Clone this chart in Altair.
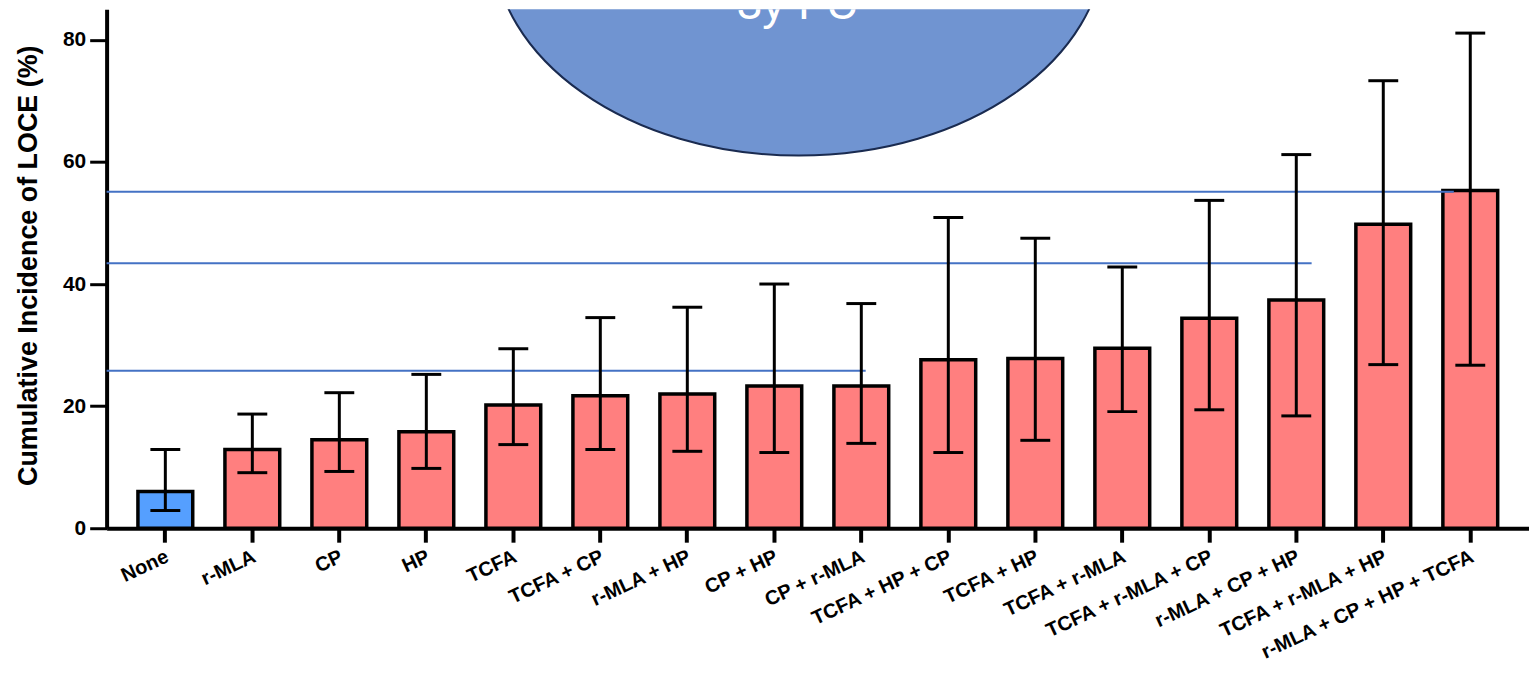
import altair as alt
import pandas as pd

# ---------------- data ----------------
categories = [
    "None", "r-MLA", "CP", "HP", "TCFA", "TCFA + CP", "r-MLA + HP", "CP + HP",
    "CP + r-MLA", "TCFA + HP + CP", "TCFA + HP", "TCFA + r-MLA",
    "TCFA + r-MLA + CP", "r-MLA + CP + HP", "TCFA + r-MLA + HP",
    "r-MLA + CP + HP + TCFA",
]
values = [6.0, 12.9, 14.5, 15.8, 20.2, 21.7, 22.0, 23.3, 23.3, 27.6, 27.8, 29.5,
          34.4, 37.4, 49.8, 55.3]
ci_low = [2.9, 9.1, 9.3, 9.8, 13.7, 12.9, 12.6, 12.4, 13.9, 12.4, 14.4, 19.1,
          19.4, 18.4, 26.8, 26.7]
ci_high = [12.9, 18.7, 22.2, 25.2, 29.4, 34.5, 36.2, 40.0, 36.8, 50.9, 47.5, 42.8,
           53.7, 61.2, 73.3, 81.1]
groups = ["reference"] + ["risk"] * 15

ref_line_values = [25.8, 43.4, 55.1]
ref_line_end_cat = ["CP + r-MLA", "r-MLA + CP + HP", "r-MLA + CP + HP + TCFA"]
ref_line_end_frac = [0.58, 0.78, 0.2]

bubble_text = ["3y FU"]

df = pd.DataFrame({
    "category": categories,
    "value": values,
    "lo": ci_low,
    "hi": ci_high,
    "group": groups,
})

FONT = "Liberation Sans"

x_scale = alt.Scale(domain=categories, paddingInner=0.37, paddingOuter=0.36)
y_scale = alt.Scale(domain=[0, 85], nice=False, zero=True)

x_axis = alt.Axis(
    title=None, labelAngle=335, labelAlign="right", labelBaseline="top",
    labelFontSize=20, labelFontWeight="bold", labelFont=FONT, labelColor="black",
    labelPadding=4, labelOffset=-2, labelLimit=0, labelOverlap=False,
    tickSize=14, tickWidth=4, tickColor="black",
    domainWidth=4, domainColor="black",
)
y_axis = alt.Axis(
    values=[0, 20, 40, 60, 80], grid=False,
    title="Cumulative Incidence of LOCE (%)", titleFont=FONT, titleFontSize=27,
    titleFontWeight="bold", titleColor="black", titleAngle=270,
    titleAlign="center", titleBaseline="middle", titleX=-78, titleY=257,
    labelFontSize=21, labelFontWeight="bold", labelFont=FONT, labelColor="black",
    labelPadding=4, tickSize=17, tickWidth=3, tickColor="black",
    domainWidth=4, domainColor="black",
)

x_enc = alt.X("category:N", sort=categories, scale=x_scale, axis=x_axis)

bars = alt.Chart(df).mark_bar(stroke="black", strokeWidth=3.5).encode(
    x=x_enc,
    y=alt.Y("value:Q", scale=y_scale, axis=y_axis),
    color=alt.Color("group:N",
                    scale=alt.Scale(domain=["reference", "risk"],
                                    range=["#559FFF", "#FF7F7F"]),
                    legend=None),
)

err_rule = alt.Chart(df).mark_rule(color="black", strokeWidth=3).encode(
    x=alt.X("category:N", sort=categories, scale=x_scale),
    y=alt.Y("lo:Q", scale=y_scale),
    y2="hi:Q",
)
cap_hi = alt.Chart(df).mark_tick(color="black", size=30, thickness=3, opacity=1).encode(
    x=alt.X("category:N", sort=categories, scale=x_scale),
    y=alt.Y("hi:Q", scale=y_scale),
)
cap_lo = alt.Chart(df).mark_tick(color="black", size=30, thickness=3, opacity=1).encode(
    x=alt.X("category:N", sort=categories, scale=x_scale),
    y=alt.Y("lo:Q", scale=y_scale),
)

ref_layers = []
for v, cat, frac in zip(ref_line_values, ref_line_end_cat, ref_line_end_frac):
    ref_layers.append(
        alt.Chart(pd.DataFrame({"v": [v]})).mark_rule(color="#4472C4", strokeWidth=2).encode(
            y=alt.Y("v:Q", scale=y_scale),
            x=alt.value(0),
            x2=alt.value({"expr": f"scale('x', '{cat}') + bandwidth('x') * {frac}"}),
        )
    )

ellipse_path = "M -1 0 A 1 0.7 0 1 0 1 0 A 1 0.7 0 1 0 -1 0 Z"
bubble_df = pd.DataFrame({"t": bubble_text})
bubble = alt.Chart(bubble_df).mark_point(
    shape=ellipse_path, size=614 * 614, filled=True, fill="#7094D1",
    stroke="#1A2B50", strokeWidth=2, opacity=1, clip=True,
).encode(x=alt.value(695), y=alt.value(-68))

bubble_label = alt.Chart(bubble_df).mark_text(
    fontSize=46, font=FONT, color="white", align="center",
    baseline="alphabetic", clip=True,
).encode(text="t:N", x=alt.value(694), y=alt.value(10))

chart = alt.layer(
    bubble, bubble_label, bars, *ref_layers, err_rule, cap_hi, cap_lo
).properties(
    width=1428, height=521,
    autosize=alt.AutoSizeParams(type="none"),
    padding={"left": 99, "top": 0, "right": 0, "bottom": 134},
    background="white",
).configure_view(stroke=None)

chart.save("out.html", embed_options={"renderer": "svg", "actions": False})
